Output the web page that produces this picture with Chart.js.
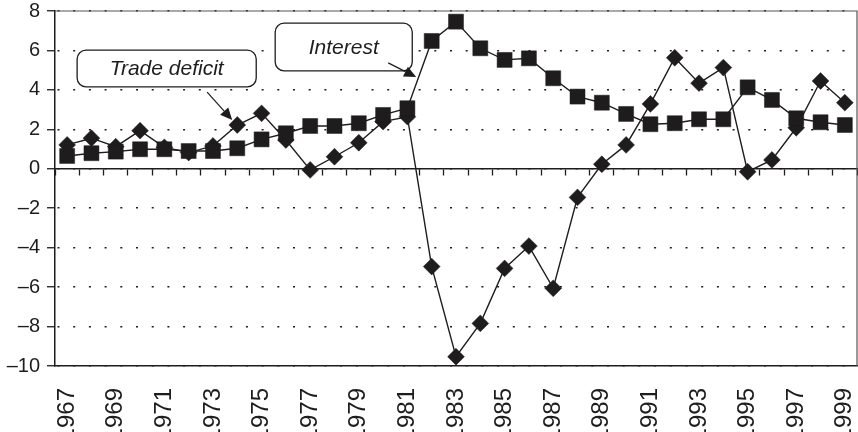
<!DOCTYPE html>
<html>
<head>
<meta charset="utf-8">
<script src="https://cdn.jsdelivr.net/npm/chart.js@4.4.1/dist/chart.umd.min.js"></script>
<style>
  html, body { margin: 0; padding: 0; background: #fff; overflow: hidden; }
  #wrap { width: 858px; height: 432px; position: relative; }
</style>
</head>
<body>
<div id="wrap"><canvas id="chart"></canvas></div>
<script>
// Data
const years = ['1967', '1968', '1969', '1970', '1971', '1972', '1973', '1974', '1975', '1976',
    '1977', '1978', '1979', '1980', '1981', '1982', '1983', '1984', '1985', '1986',
    '1987', '1988', '1989', '1990', '1991', '1992', '1993', '1994', '1995', '1996',
    '1997', '1998', '1999'];

const interest = [0.65, 0.79, 0.87, 0.99, 0.99, 0.9, 0.9, 1.04, 1.49, 1.8,
    2.17, 2.17, 2.31, 2.73, 3.07, 6.48, 7.46, 6.11, 5.52, 5.6,
    4.59, 3.66, 3.35, 2.78, 2.26, 2.31, 2.51, 2.51, 4.13, 3.49,
    2.56, 2.36, 2.22];

const tradeDeficit = [1.21, 1.55, 1.12, 1.93, 1.09, 0.82, 1.16, 2.22, 2.81, 1.46,
    -0.06, 0.61, 1.32, 2.39, 2.64, -4.96, -9.53, -7.84, -5.05, -3.92,
    -6.06, -1.45, 0.23, 1.21, 3.29, 5.63, 4.34, 5.13, -0.15, 0.45,
    2.08, 4.45, 3.35];

const yMin = -10;
const yMax = 8;
const yStep = 2;

// Callouts: box and arrow given in (category index, value) units
const callouts = [
    { text: 'Trade deficit', box: [0.41, 6.02, 7.78, 4.15], arrow: [5.76, 3.89, 6.79, 2.47] },
    { text: 'Interest', box: [8.56, 7.39, 14.2, 4.96], arrow: [13.21, 5.37, 14.36, 4.65] }
];

const INK = '#1e1c1d';

// Frame round the plot area (top and right edges)
const framePlugin = {
    id: 'frame',
    beforeDatasetsDraw(chart) {
        const { ctx, chartArea: a } = chart;
        ctx.save();
        ctx.strokeStyle = '#555';
        ctx.lineWidth = 1.2;
        ctx.beginPath();
        ctx.moveTo(a.left, a.top);
        ctx.lineTo(a.right, a.top);
        ctx.lineTo(a.right, a.bottom);
        ctx.stroke();
        ctx.restore();
    }
};

// Rounded boxes with arrows
const calloutPlugin = {
    id: 'callouts',
    afterDraw(chart) {
        const { ctx } = chart;
        const xs = chart.scales.x;
        const ys = chart.scales.y;
        ctx.save();
        callouts.forEach(c => {
            const x1 = xs.getPixelForValue(c.box[0]);
            const y1 = ys.getPixelForValue(c.box[1]);
            const x2 = xs.getPixelForValue(c.box[2]);
            const y2 = ys.getPixelForValue(c.box[3]);
            ctx.fillStyle = '#fff';
            ctx.strokeStyle = INK;
            ctx.lineWidth = 1.3;
            ctx.beginPath();
            ctx.roundRect(x1, y1, x2 - x1, y2 - y1, 9);
            ctx.fill();
            ctx.stroke();

            ctx.fillStyle = INK;
            ctx.font = 'italic 21px "Liberation Sans", Arial, sans-serif';
            ctx.textAlign = 'center';
            ctx.textBaseline = 'middle';
            ctx.fillText(c.text, (x1 + x2) / 2, (y1 + y2) / 2 + 1);

            // arrow
            const ax = xs.getPixelForValue(c.arrow[0]);
            const ay = ys.getPixelForValue(c.arrow[1]);
            const bx = xs.getPixelForValue(c.arrow[2]);
            const by = ys.getPixelForValue(c.arrow[3]);
            const ang = Math.atan2(by - ay, bx - ax);
            const len = 12, half = 5.5;
            const baseX = bx - len * Math.cos(ang);
            const baseY = by - len * Math.sin(ang);
            ctx.lineWidth = 1.2;
            ctx.beginPath();
            ctx.moveTo(ax, ay);
            ctx.lineTo(baseX, baseY);
            ctx.stroke();
            ctx.beginPath();
            ctx.moveTo(bx, by);
            ctx.lineTo(baseX + half * Math.sin(ang), baseY - half * Math.cos(ang));
            ctx.lineTo(baseX - half * Math.sin(ang), baseY + half * Math.cos(ang));
            ctx.closePath();
            ctx.fill();
        });
        ctx.restore();
    }
};

function initChart() {
    const ctx = document.getElementById('chart');

    new Chart(ctx, {
        type: 'line',
        data: {
            labels: years,
            datasets: [{
                label: 'Interest',
                data: interest,
                borderColor: INK,
                borderWidth: 1.4,
                pointStyle: 'rect',
                pointRadius: 10.6,
                pointBackgroundColor: INK,
                pointBorderColor: INK,
                pointBorderWidth: 0.5,
                tension: 0
            }, {
                label: 'Trade deficit',
                data: tradeDeficit,
                borderColor: INK,
                borderWidth: 1.4,
                pointStyle: 'rectRot',
                pointRadius: 8.4,
                pointBackgroundColor: INK,
                pointBorderColor: INK,
                pointBorderWidth: 0.5,
                tension: 0
            }]
        },
        options: {
            responsive: true,
            maintainAspectRatio: false,
            animation: false,
            layout: { autoPadding: false, padding: { top: 11, right: 1, left: 0, bottom: 0 } },
            plugins: {
                legend: { display: false },
                tooltip: { enabled: false }
            },
            scales: {
                x: {
                    type: 'category',
                    offset: true,
                    grid: { display: false },
                    border: { display: true, color: INK, width: 1.5 },
                    ticks: {
                        autoSkip: false,
                        minRotation: 90,
                        maxRotation: 90,
                        padding: 14,
                        color: INK,
                        font: { family: "'Liberation Sans', Arial, sans-serif", size: 24 },
                        callback: (v, i) => (i % 2 === 0 ? years[i] : '')
                    },
                    afterFit: s => {
                        s.height = 66;
                        s.paddingLeft = 0;
                        s.paddingRight = 0;
                    }
                },
                x2: {
                    type: 'category',
                    axis: 'x',
                    labels: years,
                    offset: true,
                    position: { y: 0 },
                    grid: {
                        display: true,
                        offset: true,
                        drawOnChartArea: false,
                        drawTicks: true,
                        tickLength: 6,
                        tickColor: INK,
                        tickWidth: 1.3
                    },
                    border: { display: true, color: INK, width: 1.5 },
                    ticks: { display: false },
                    afterFit: s => {
                        s.paddingLeft = 0;
                        s.paddingRight = 0;
                    }
                },
                y: {
                    min: yMin,
                    max: yMax,
                    ticks: {
                        stepSize: yStep,
                        padding: 7,
                        color: INK,
                        font: { family: "'Liberation Sans', Arial, sans-serif", size: 20 },
                        callback: v => String(v).replace('-', '\u2013')
                    },
                    grid: {
                        color: INK,
                        lineWidth: 1.5,
                        drawTicks: true,
                        tickLength: 8,
                        tickColor: INK,
                        tickWidth: 1.3
                    },
                    border: { display: true, color: INK, width: 1.5, dash: [2, 13.7], dashOffset: -2 },
                    afterFit: s => {
                        s.width = 55;
                        s.paddingTop = 0;
                        s.paddingBottom = 0;
                    }
                }
            }
        },
        plugins: [framePlugin, calloutPlugin]
    });
}

document.addEventListener('DOMContentLoaded', initChart);
</script>
</body>
</html>
